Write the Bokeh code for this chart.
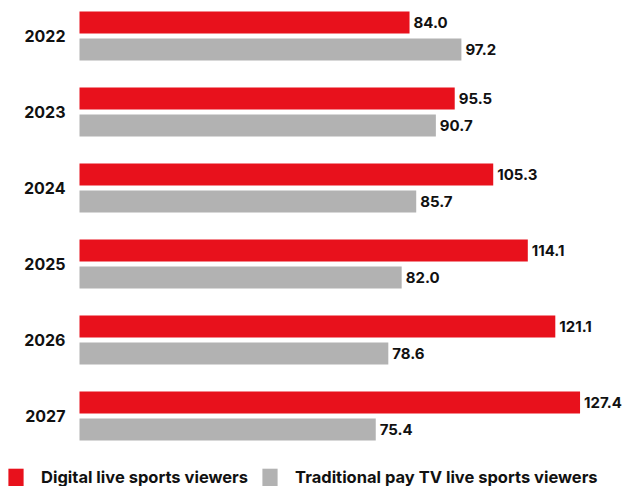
from bokeh.plotting import figure
from bokeh.models import ColumnDataSource, Range1d, Legend, LegendItem
from bokeh.transform import dodge
from bokeh.core.properties import value
from bokeh.embed import file_html
from bokeh.resources import INLINE

years = [2022, 2023, 2024, 2025, 2026, 2027]
digital = [84.0, 95.5, 105.3, 114.1, 121.1, 127.4]
traditional = [97.2, 90.7, 85.7, 82.0, 78.6, 75.4]
series_names = ["Digital live sports viewers", "Traditional pay TV live sports viewers"]

RED = "#E8111C"
GRAY = "#B2B2B2"
FONT = "Inter"
PX = 3.929  # pixels per unit on x

src = ColumnDataSource(dict(
    year=years,
    ylab=[str(y) for y in years],
    zero=[0] * len(years),
    digital=digital,
    traditional=traditional,
    dlab=["%.1f" % v for v in digital],
    tlab=["%.1f" % v for v in traditional],
))

p = figure(width=626, height=486, output_backend="svg", toolbar_location=None,
           x_range=Range1d(-79 / PX, 547 / PX), y_range=Range1d(2027.928, 2021.533),
           min_border_left=0, min_border_right=0, min_border_top=0, min_border_bottom=0,
           outline_line_color=None)

off = 13.5 / 76.0
h = 22.0 / 76.0
r1 = p.hbar(y=dodge("year", -off), right="digital", left=0, height=h, source=src,
            fill_color=RED, line_color=None)
r2 = p.hbar(y=dodge("year", off), right="traditional", left=0, height=h, source=src,
            fill_color=GRAY, line_color=None)

for col, lab, d in (("digital", "dlab", -off), ("traditional", "tlab", off)):
    p.text(x=col, y=dodge("year", d), text=lab, source=src, x_offset=4,
           text_font=value(FONT), text_font_style="bold", text_font_size="15px",
           text_color="#111111", text_align="left", text_baseline="middle")

# year labels (category axis labels)
p.text(x="zero", y="year", text="ylab", source=src, x_offset=-14,
       text_font=value(FONT), text_font_style="bold", text_font_size="16px",
       text_color="#111111", text_align="right", text_baseline="middle")

p.axis.visible = False
p.grid.visible = False

legend = Legend(items=[LegendItem(label=series_names[0], renderers=[r1]),
                       LegendItem(label=series_names[1], renderers=[r2])],
                orientation="horizontal", location=(6, -2),
                glyph_width=19, glyph_height=22, label_standoff=16, spacing=12,
                padding=0, margin=0, border_line_color=None, background_fill_alpha=0,
                label_text_font=FONT, label_text_font_size="16.5px",
                label_text_font_style="bold", label_text_color="#111111")
p.add_layout(legend, "center")

open("out.html", "w").write(file_html(p, INLINE))
